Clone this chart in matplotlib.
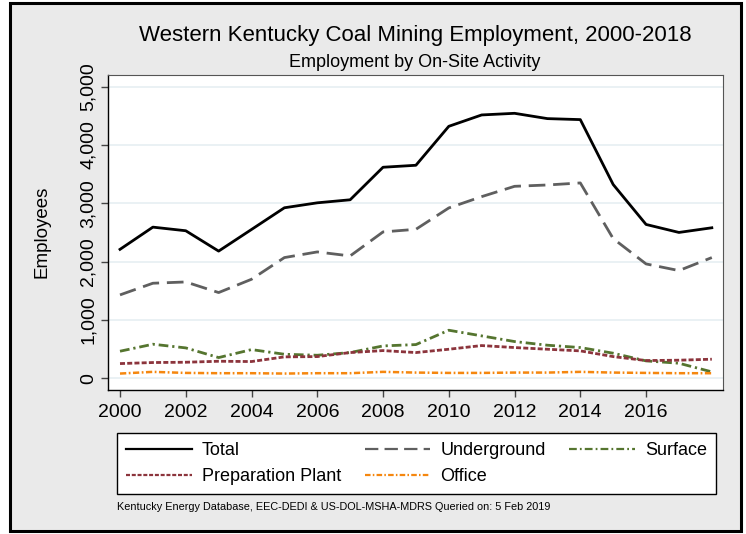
import matplotlib
matplotlib.use('Agg')
import matplotlib.pyplot as plt
from matplotlib.patches import Rectangle
from matplotlib.ticker import FuncFormatter

plt.rcParams['font.family'] = ['Liberation Sans', 'DejaVu Sans']

years = list(range(2000, 2019))
total = [2210, 2591, 2529, 2180, 2551, 2923, 3008, 3060, 3618, 3652,
         4320, 4515, 4543, 4452, 4435, 3322, 2637, 2500, 2580]
underground = [1429, 1629, 1651, 1469, 1697, 2069, 2166, 2097, 2509, 2554,
               2920, 3114, 3291, 3314, 3349, 2394, 1960, 1846, 2069]
surface = [463, 583, 520, 354, 491, 411, 394, 440, 554, 577,
           823, 726, 629, 566, 526, 429, 297, 257, 109]
prep_plant = [251, 269, 274, 291, 286, 366, 371, 440, 474, 440,
              497, 560, 526, 497, 469, 371, 303, 309, 326]
office = [80, 109, 91, 86, 86, 80, 86, 86, 109, 97,
          91, 91, 97, 97, 109, 97, 91, 86, 86]

W, H = 746, 534
fig = plt.figure(figsize=(W / 100, H / 100), dpi=100, facecolor='white')
# outer gray panel with black frame
fig.patches.append(Rectangle((10 / W, 3 / H), 731 / W, 528 / H, transform=fig.transFigure,
                             facecolor='#eaeaea', edgecolor='black', lw=2.2, zorder=-10))

ax = fig.add_axes([108 / W, 1 - 390 / H, 615 / W, 315 / H])

l_total, = ax.plot(years, total, color='black', lw=2, label='Total')
l_under, = ax.plot(years, underground, color='#5f5f5f', lw=2, dashes=(6, 2.8), label='Underground')
l_surf, = ax.plot(years, surface, color='#55752f', lw=2, dashes=(3.5, 1.4, 0.8, 1.4), label='Surface')
l_prep, = ax.plot(years, prep_plant, color='#8c343c', lw=2, dashes=(1.8, 0.8), label='Preparation Plant')
l_off, = ax.plot(years, office, color='#f5870f', lw=1.8, dashes=(2.5, 1, 0.7, 1), label='Office')

ax.set_xlim(1999.635, 2018.34)
ax.set_ylim(-202, 5200)
ax.set_xticks(range(2000, 2017, 2))
ax.set_yticks(range(0, 5001, 1000))
ax.yaxis.set_major_formatter(FuncFormatter(lambda v, p: f'{int(v):,}'))
ax.grid(axis='y', color='#e6eff2', lw=1.2)
ax.set_axisbelow(True)
ax.tick_params(axis='both', labelsize=14, length=5, width=1, color='#444444')
ax.tick_params(axis='x', pad=5)
ax.tick_params(axis='y', pad=3)
for lab in ax.get_yticklabels():
    lab.set_rotation(90)
    lab.set_va('center')
for s in ['top', 'right']:
    ax.spines[s].set_color('#555555')
    ax.spines[s].set_linewidth(0.8)
for s in ['left', 'bottom']:
    ax.spines[s].set_color('black')
    ax.spines[s].set_linewidth(1)

fig.text(42 / W, 1 - 232 / H, 'Employees', rotation=90, ha='center', va='center', fontsize=13.5)
fig.text(415 / W, 1 - 36 / H, 'Western Kentucky Coal Mining Employment, 2000-2018',
         ha='center', va='center', fontsize=16)
fig.text(415 / W, 1 - 62 / H, 'Employment by On-Site Activity', ha='center', va='center', fontsize=13)

leg = fig.legend([l_total, l_prep, l_under, l_off, l_surf],
                 ['Total', 'Preparation Plant', 'Underground', 'Office', 'Surface'],
                 ncol=3, loc='lower left', bbox_to_anchor=(117 / W, 1 - 494 / H),
                 fontsize=13, handlelength=3.65, handletextpad=0.55, columnspacing=1.3,
                 frameon=True, fancybox=False, edgecolor='black', framealpha=1,
                 borderaxespad=0, borderpad=0.5, labelspacing=0.5)
leg.get_frame().set_linewidth(1)
for h in leg.get_lines():
    h.set_linewidth(1.6)

fig.text(117 / W, 1 - 507 / H,
         'Kentucky Energy Database, EEC-DEDI & US-DOL-MSHA-MDRS Queried on: 5 Feb 2019',
         fontsize=7.8, va='center')

fig.savefig('out.png', dpi=100, facecolor=fig.get_facecolor())
